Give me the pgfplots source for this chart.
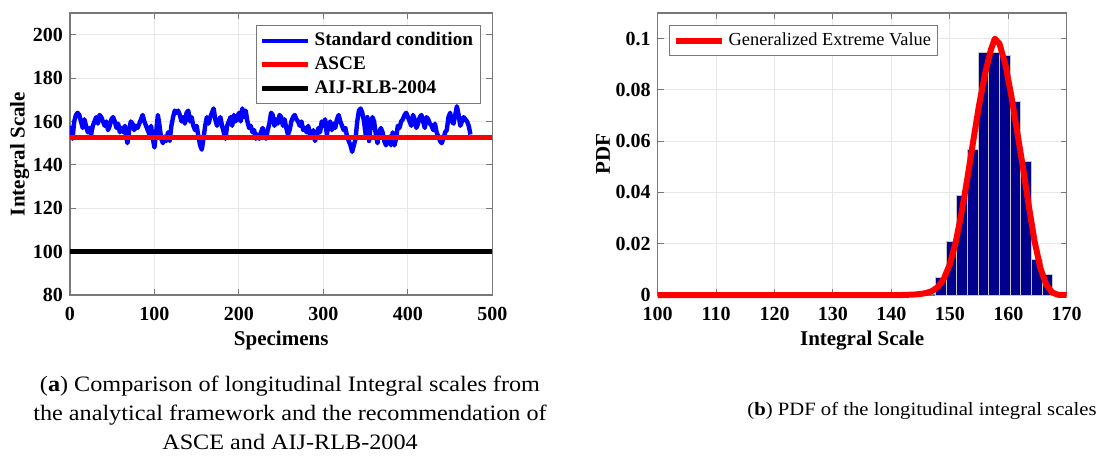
\documentclass[border=0pt]{standalone}
\usepackage{fontspec}
\setmainfont{Liberation Serif}
\newfontfamily\capfont[FakeStretch=1.1]{Liberation Serif}
\usepackage{pgfplots}
\pgfplotsset{compat=1.18}

\definecolor{navybar}{RGB}{0,0,140}
\definecolor{axgray}{RGB}{120,120,120}

\pgfplotsset{
  matlab/.style={
    scale only axis,
    height=141pt,
    axis line style={axgray, line width=0.6pt},
    tick style={axgray, line width=0.5pt},
    tick align=inside,
    major tick length=3pt,
    grid=major,
    major grid style={gray!18, line width=0.5pt},
    /pgf/number format/assume math mode=true,
    tick label style={font=\fontsize{10}{11}\selectfont\bfseries, text=black},
    xticklabel style={yshift=-2.5pt},
    label style={font=\fontsize{10.5}{12}\selectfont\bfseries},
    legend cell align=left,
    legend style={draw=axgray, fill=white, line width=0.5pt,
      font=\fontsize{9.2}{11}\selectfont, inner sep=1.5pt, row sep=0pt},
    legend image code/.code={\draw[##1] (0pt,0pt) -- (23pt,0pt);},
  }
}

\begin{document}
\begin{tikzpicture}
\path[use as bounding box] (0pt,0pt) rectangle (549.5pt,228pt);

% (a) integral scales per specimen
\begin{axis}[matlab,
  at={(35pt,80.5pt)}, anchor=south west,
  width=211.2pt,
  xmin=0, xmax=500, ymin=80, ymax=210,
  xtick={0,100,...,500}, ytick={80,100,...,200},
  xlabel={Specimens}, ylabel={Integral Scale},
  xlabel style={yshift=1.5pt}, ylabel style={yshift=-5pt},
  legend style={at={(0.972,0.957)}, anchor=north east,
    font=\fontsize{9.6}{11}\selectfont\bfseries},
]
\addplot[blue, line width=2.2pt, line join=round] coordinates {
(1,158) (3,152) (5,160) (7,163) (9,164) (11,163) (13,160) (15,157) (17,161) (19,158)
(21,155) (23,157) (25,154) (27,158) (29,160) (31,162) (33,159) (35,163) (37,162) (39,160)
(41,158) (43,160) (45,156) (47,158) (49,161) (51,162) (53,160) (55,157) (57,159) (59,155)
(61,157) (63,155) (65,158) (67,152) (68,150) (70,156) (72,160) (74,159) (76,156) (78,158)
(80,157) (82,159) (84,161) (86,163) (88,160) (90,158) (92,156) (94,154) (96,158) (98,152)
(100,148) (102,155) (104,163) (106,158) (108,152) (110,150) (112,153) (114,151) (116,155) (118,151)
(120,158) (122,162) (124,165) (126,164) (128,165) (130,163) (132,160) (134,162) (136,159) (138,164)
(140,165) (142,160) (144,162) (146,158) (148,156) (150,158) (152,153) (154,149) (156,147) (158,152)
(160,158) (162,162) (164,159) (166,162) (168,164) (170,166) (172,161) (174,158) (176,160) (178,162)
(180,158) (182,155) (184,152) (186,158) (188,160) (190,162) (192,158) (194,163) (196,160) (198,162)
(200,164) (202,160) (204,166) (206,162) (208,165) (210,160) (212,157) (214,158) (216,155) (218,156)
(220,152) (222,154) (224,152) (226,155) (228,157) (230,154) (232,152) (234,156) (236,159) (238,164)
(240,163) (242,158) (244,161) (246,159) (248,163) (250,162) (252,158) (254,161) (256,157) (258,154)
(260,156) (262,160) (264,162) (266,163) (268,161) (270,160) (272,158) (274,160) (276,156) (278,157)
(280,155) (282,158) (284,154) (286,153) (288,156) (290,151) (292,153) (294,157) (296,155) (298,160)
(300,158) (302,161) (304,154) (306,158) (308,160) (310,156) (312,159) (314,157) (316,161) (318,163)
(320,160) (322,158) (324,156) (326,157) (328,153) (330,151) (332,149) (334,146) (336,149) (338,152)
(340,160) (342,165) (344,166) (346,164) (348,160) (350,154) (352,162) (354,151) (356,158) (358,162)
(360,160) (362,154) (364,150) (366,155) (368,157) (370,155) (372,151) (374,149) (376,151) (378,153)
(380,149) (382,155) (384,149) (386,152) (388,158) (390,157) (392,160) (394,161) (396,163) (398,164)
(400,162) (402,160) (404,158) (406,163) (408,161) (410,157) (412,159) (414,162) (416,163) (418,160)
(420,157) (422,162) (424,161) (426,159) (428,158) (430,156) (432,159) (434,155) (436,153) (438,151)
(440,150) (442,152) (444,155) (446,156) (448,162) (450,164) (452,160) (454,159) (456,163) (458,167)
(460,163) (462,158) (464,160) (466,162) (468,161) (470,160) (472,158) (474,154)
};
\addplot[red, line width=2.5pt] coordinates {(0,152.5) (500,152.5)};
\addplot[black, line width=2.5pt] coordinates {(0,100) (500,100)};
\legend{Standard condition, ASCE, AIJ-RLB-2004}
\end{axis}

% (b) PDF histogram with GEV fit
\begin{axis}[matlab,
  at={(328.85pt,80.5pt)}, anchor=south west,
  width=204.5pt,
  xmin=100, xmax=170, ymin=0, ymax=0.11,
  xtick={100,110,...,170}, ytick={0,0.02,0.04,0.06,0.08,0.1},
  yticklabels={0,0.02,0.04,0.06,0.08,0.1},
  xlabel={Integral Scale}, ylabel={PDF},
  xlabel style={yshift=1.5pt}, ylabel style={yshift=-4pt},
  clip=false,
  legend style={at={(0.028,0.957)}, anchor=north west},
  legend image code/.code={\draw[#1, line width=3pt] (0pt,0pt) -- (23pt,0pt);},
]
\addplot[ybar interval, fill=navybar, draw=gray!45, line width=0.5pt, forget plot] coordinates {
(147.6,0.0068) (149.4,0.0209) (151.2,0.0388) (153.0,0.0566) (154.85,0.0944) (156.7,0.0944)
(158.5,0.0935) (160.3,0.0755) (162.1,0.0519) (163.95,0.0140) (165.8,0.0081) (167.6,0.0081)
};
\addplot[red, line width=3pt, line join=round] coordinates {
(100,0) (142,0) (143,0.0001) (144,0.0002) (145,0.0004) (146,0.0008) (147,0.0016) (148,0.0032)
(149,0.0065) (150,0.0120) (151,0.0205) (152,0.0320) (153,0.0455) (154,0.0600) (155,0.0740)
(156,0.0860) (157,0.0955) (157.7,0.1000) (158.5,0.0980) (159.5,0.0900) (160.5,0.0780)
(161.5,0.0640) (162.5,0.0500) (163.5,0.0350) (164.5,0.0210) (165.5,0.0105) (166.5,0.0040)
(167.5,0.0010) (168.5,0.0001) (170,0)
};
\legend{Generalized Extreme Value}
\end{axis}

% captions
\node[font=\capfont\fontsize{11}{14.5}\selectfont, align=center] at (145pt,21.5pt)
  {(\textbf{a}) Comparison of longitudinal Integral scales from\\
   the analytical framework and the recommendation of\\
   ASCE and AIJ-RLB-2004};
\node[font=\capfont\fontsize{9.4}{14.5}\selectfont, align=center] at (461pt,22.5pt)
  {(\textbf{b}) PDF of the longitudinal integral scales};
\end{tikzpicture}
\end{document}
